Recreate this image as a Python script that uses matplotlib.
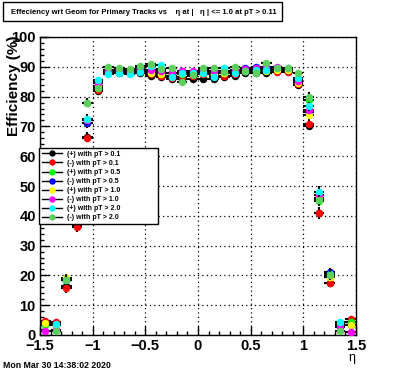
import matplotlib
matplotlib.use("Agg")
import matplotlib.pyplot as plt
from matplotlib.lines import Line2D
from matplotlib.patches import Rectangle
from matplotlib.ticker import MultipleLocator
import numpy as np

plt.rcParams['font.family'] = ['Liberation Sans', 'DejaVu Sans']

# eta bin centres
eta = [-1.45, -1.35, -1.25, -1.15, -1.05, -0.95, -0.85, -0.75, -0.65, -0.55,
       -0.45, -0.35, -0.25, -0.15, -0.05, 0.05, 0.15, 0.25, 0.35, 0.45,
       0.55, 0.65, 0.75, 0.85, 0.95, 1.05, 1.15, 1.25, 1.35, 1.45]

# efficiency (%) per series
eff_pos_01 = [4.5, 4.0, 16.5, 37.0, 66.5, 82.0, 88.0, 88.0, 88.0, 88.0,
              87.0, 86.5, 85.8, 86.0, 86.0, 85.8, 86.0, 86.5, 87.0, 88.0,
              88.0, 88.0, 88.5, 88.5, 84.0, 70.3, 41.0, 17.5, 3.5, 4.5]
eff_neg_01 = [4.8, 4.5, 15.7, 36.2, 66.2, 82.3, 88.2, 88.5, 88.0, 88.5,
              87.5, 86.9, 86.3, 86.5, 87.0, 87.5, 86.8, 86.9, 87.5, 88.5,
              89.0, 88.8, 88.4, 88.4, 84.2, 70.7, 40.8, 17.6, 3.8, 5.4]
eff_pos_05 = [3.3, 3.5, 18.5, 44.0, 78.0, 83.0, 89.0, 89.0, 88.5, 89.5,
              88.5, 87.5, 87.0, 87.5, 87.5, 88.0, 87.5, 88.0, 88.5, 88.5,
              89.5, 89.0, 89.5, 89.0, 85.0, 79.0, 45.0, 19.5, 3.0, 4.4]
eff_neg_05 = [4.1, 3.5, 18.5, 41.0, 71.0, 85.0, 88.5, 88.5, 88.0, 88.5,
              88.5, 88.0, 88.0, 88.5, 88.0, 88.5, 88.0, 88.5, 88.5, 89.5,
              90.0, 89.5, 89.5, 89.0, 85.5, 75.0, 46.0, 21.0, 3.0, 3.4]
eff_pos_10 = [4.0, 3.5, 19.0, 44.0, 72.0, 83.5, 88.5, 89.0, 88.5, 89.0,
              88.0, 87.5, 87.0, 88.0, 87.5, 88.0, 87.5, 88.0, 88.5, 88.5,
              88.5, 88.7, 89.0, 89.0, 84.7, 73.8, 46.0, 19.5, 3.0, 3.5]
eff_neg_10 = [1.2, 1.7, 18.5, 43.0, 72.0, 84.5, 89.0, 89.0, 88.5, 89.0,
              88.9, 88.5, 88.0, 88.7, 88.7, 89.0, 88.5, 88.5, 89.0, 89.2,
              89.5, 89.8, 89.8, 89.5, 85.3, 75.5, 47.0, 20.0, 2.7, 1.1]
eff_pos_20 = [np.nan, 3.6, 18.5, 45.5, 72.5, 85.6, 87.6, 87.9, 87.6, 88.4,
              90.3, 90.6, 86.5, 88.0, 88.0, 88.0, 86.7, 89.5, 87.9, 88.5,
              89.0, 89.0, 89.5, 89.5, 86.1, 76.8, 48.1, 20.5, 4.3, np.nan]
eff_neg_20 = [np.nan, 1.2, 18.3, 44.3, 78.0, 82.8, 89.8, 89.5, 89.2, 90.3,
              90.9, 89.1, 89.5, 85.0, 87.2, 89.5, 89.5, 88.4, 90.1, 88.7,
              88.0, 91.2, 89.5, 89.5, 87.8, 80.0, 45.3, 20.0, 1.5, np.nan]

# statistical error per bin (%)
eff_err = [1.0, 1.0, 1.5, 1.8, 1.5, 0.8, 0.5, 0.5, 0.5, 0.5,
           0.5, 0.5, 0.5, 0.5, 0.5, 0.5, 0.5, 0.5, 0.5, 0.5,
           0.5, 0.5, 0.5, 0.5, 0.8, 1.5, 1.8, 1.5, 1.0, 1.0]

labels = ['(+) with pT > 0.1', '(-) with pT > 0.1',
          '(+) with pT > 0.5', '(-) with pT > 0.5',
          '(+) with pT > 1.0', '(-) with pT > 1.0',
          '(+) with pT > 2.0', '(-) with pT > 2.0']
colors = ['#000000', '#ff0000', '#00ff00', '#0000ff',
          '#ffff00', '#ff00ff', '#00ffff', '#5ccf5c']
series = [eff_pos_01, eff_neg_01, eff_pos_05, eff_neg_05,
          eff_pos_10, eff_neg_10, eff_pos_20, eff_neg_20]

fig = plt.figure(figsize=(3.96, 3.72), dpi=100)
ax = fig.add_axes([40/396, 37/372, 316/396, 298/372])

for i, (vals, col) in enumerate(zip(series, colors)):
    ax.errorbar(eta, vals, xerr=0.05, yerr=eff_err, fmt='o', color=col,
                markersize=5.4, markeredgewidth=0, ecolor='black',
                elinewidth=1.5, capsize=0, zorder=3 + i)

ax.set_xlim(-1.5, 1.5)
ax.set_ylim(0, 100)
ax.set_xticks([-1.5, -1, -0.5, 0, 0.5, 1, 1.5])
ax.set_xticklabels(['\u22121.5', '\u22121', '\u22120.5', '0', '0.5', '1', '1.5'])
ax.xaxis.set_minor_locator(MultipleLocator(0.1))
ax.yaxis.set_major_locator(MultipleLocator(10))
ax.yaxis.set_minor_locator(MultipleLocator(2))
ax.tick_params(which='both', direction='in', top=False, right=False,
               labelsize=10.5, width=1)
ax.tick_params(which='major', length=6.5, pad=3)
ax.tick_params(which='minor', length=3.2)
for lab in ax.get_xticklabels() + ax.get_yticklabels():
    lab.set_fontweight('bold')
ax.grid(True, which='major', color='black', linestyle=(0, (1, 2.5)), linewidth=0.9)
for sp in ax.spines.values():
    sp.set_linewidth(1)

fig.text(14.5/396, 1 - 36/372, 'Efficiency (%)', rotation=90, fontsize=11,
         fontweight='bold', ha='center', va='top')
fig.text(352/396, 1 - 358/372, '\u03b7', fontsize=9, ha='center', va='center')

handles = [Line2D([0], [0], color='black', lw=1, marker='o', markersize=4.6,
                  markerfacecolor=c, markeredgewidth=0) for c in colors]
leg = ax.legend(handles, labels, loc='upper left', mode='expand',
                prop={'size': 5, 'weight': 'bold'},
                bbox_to_anchor=(39/396, 1 - 223/372, 119/396, 75/372),
                bbox_transform=fig.transFigure,
                borderaxespad=0, frameon=True, fancybox=False, framealpha=1,
                edgecolor='black', handlelength=2.9, handletextpad=0.7,
                labelspacing=0.3, borderpad=0.4)
leg.get_frame().set_linewidth(1)
leg.set_zorder(20)

fig.patches.append(Rectangle((3/396, 1 - 21/372), 279/396, 19/372, transform=fig.transFigure,
                             fill=False, edgecolor='black', linewidth=1))
fig.text(144/396, 1 - 12/372,
         'Effeciency wrt Geom for Primary Tracks vs    \u03b7 at |   \u03b7 | <= 1.0 at pT > 0.11',
         fontsize=5.5, fontweight='bold', ha='center', va='center')
fig.text(3/396, 1 - 365/372, 'Mon Mar 30 14:38:02 2020', fontsize=6.3,
         fontweight='bold', ha='left', va='center')

fig.savefig('out.png', dpi=100)
